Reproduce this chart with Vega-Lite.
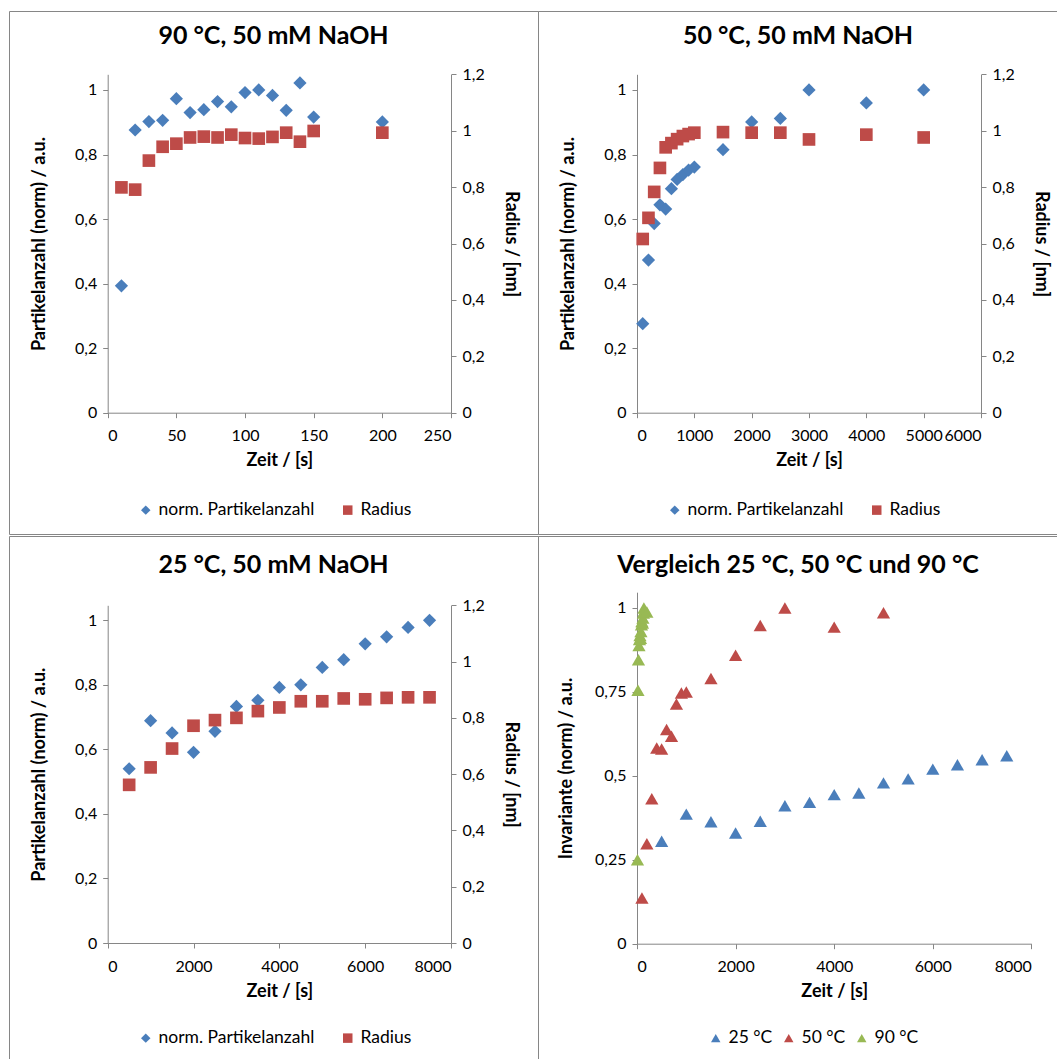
{
  "$schema": "https://vega.github.io/schema/vega-lite/v6.json",
  "padding": {"left": 8, "top": 10, "right": 0, "bottom": 0},
  "background": "white",
  "spacing": 0,
  "datasets": {
    "p90": [
      {"t": 10, "N": 0.393, "r": 0.799},
      {"t": 20, "N": 0.876, "r": 0.791},
      {"t": 30, "N": 0.902, "r": 0.894},
      {"t": 40, "N": 0.906, "r": 0.943},
      {"t": 50, "N": 0.973, "r": 0.954},
      {"t": 60, "N": 0.930, "r": 0.976},
      {"t": 70, "N": 0.939, "r": 0.979},
      {"t": 80, "N": 0.964, "r": 0.976},
      {"t": 90, "N": 0.948, "r": 0.986},
      {"t": 100, "N": 0.992, "r": 0.974},
      {"t": 110, "N": 1.0, "r": 0.972},
      {"t": 120, "N": 0.983, "r": 0.978},
      {"t": 130, "N": 0.937, "r": 0.993},
      {"t": 140, "N": 1.022, "r": 0.961},
      {"t": 150, "N": 0.916, "r": 0.999},
      {"t": 200, "N": 0.901, "r": 0.993}
    ],
    "p50": [
      {"t": 100, "N": 0.276, "r": 0.616},
      {"t": 200, "N": 0.473, "r": 0.691},
      {"t": 300, "N": 0.586, "r": 0.783},
      {"t": 400, "N": 0.644, "r": 0.868},
      {"t": 500, "N": 0.631, "r": 0.941},
      {"t": 600, "N": 0.694, "r": 0.956},
      {"t": 700, "N": 0.723, "r": 0.970},
      {"t": 800, "N": 0.738, "r": 0.981},
      {"t": 900, "N": 0.752, "r": 0.988},
      {"t": 1000, "N": 0.761, "r": 0.993},
      {"t": 1500, "N": 0.815, "r": 0.995},
      {"t": 2000, "N": 0.901, "r": 0.993},
      {"t": 2500, "N": 0.912, "r": 0.993},
      {"t": 3000, "N": 1.0, "r": 0.969},
      {"t": 4000, "N": 0.960, "r": 0.986},
      {"t": 5000, "N": 1.0, "r": 0.976}
    ],
    "p25": [
      {"t": 500, "N": 0.540, "r": 0.562},
      {"t": 1000, "N": 0.689, "r": 0.624},
      {"t": 1500, "N": 0.651, "r": 0.691},
      {"t": 2000, "N": 0.591, "r": 0.772},
      {"t": 2500, "N": 0.656, "r": 0.792},
      {"t": 3000, "N": 0.733, "r": 0.800},
      {"t": 3500, "N": 0.752, "r": 0.824},
      {"t": 4000, "N": 0.792, "r": 0.837},
      {"t": 4500, "N": 0.800, "r": 0.859},
      {"t": 5000, "N": 0.854, "r": 0.859},
      {"t": 5500, "N": 0.878, "r": 0.869},
      {"t": 6000, "N": 0.927, "r": 0.866},
      {"t": 6500, "N": 0.949, "r": 0.871},
      {"t": 7000, "N": 0.978, "r": 0.873},
      {"t": 7500, "N": 1.0, "r": 0.873}
    ],
    "inv": [
      {"t": 500, "v": 0.305, "T": "25 °C"},
      {"t": 1000, "v": 0.386, "T": "25 °C"},
      {"t": 1500, "v": 0.363, "T": "25 °C"},
      {"t": 2000, "v": 0.330, "T": "25 °C"},
      {"t": 2500, "v": 0.365, "T": "25 °C"},
      {"t": 3000, "v": 0.411, "T": "25 °C"},
      {"t": 3500, "v": 0.421, "T": "25 °C"},
      {"t": 4000, "v": 0.444, "T": "25 °C"},
      {"t": 4500, "v": 0.449, "T": "25 °C"},
      {"t": 5000, "v": 0.479, "T": "25 °C"},
      {"t": 5500, "v": 0.491, "T": "25 °C"},
      {"t": 6000, "v": 0.520, "T": "25 °C"},
      {"t": 6500, "v": 0.533, "T": "25 °C"},
      {"t": 7000, "v": 0.548, "T": "25 °C"},
      {"t": 7500, "v": 0.560, "T": "25 °C"},
      {"t": 100, "v": 0.136, "T": "50 °C"},
      {"t": 200, "v": 0.298, "T": "50 °C"},
      {"t": 300, "v": 0.432, "T": "50 °C"},
      {"t": 400, "v": 0.583, "T": "50 °C"},
      {"t": 500, "v": 0.580, "T": "50 °C"},
      {"t": 600, "v": 0.638, "T": "50 °C"},
      {"t": 700, "v": 0.618, "T": "50 °C"},
      {"t": 800, "v": 0.714, "T": "50 °C"},
      {"t": 900, "v": 0.747, "T": "50 °C"},
      {"t": 1000, "v": 0.750, "T": "50 °C"},
      {"t": 1500, "v": 0.790, "T": "50 °C"},
      {"t": 2000, "v": 0.859, "T": "50 °C"},
      {"t": 2500, "v": 0.948, "T": "50 °C"},
      {"t": 3000, "v": 1.0, "T": "50 °C"},
      {"t": 4000, "v": 0.943, "T": "50 °C"},
      {"t": 5000, "v": 0.986, "T": "50 °C"},
      {"t": 10, "v": 0.250, "T": "90 °C"},
      {"t": 20, "v": 0.755, "T": "90 °C"},
      {"t": 30, "v": 0.846, "T": "90 °C"},
      {"t": 40, "v": 0.888, "T": "90 °C"},
      {"t": 50, "v": 0.906, "T": "90 °C"},
      {"t": 60, "v": 0.918, "T": "90 °C"},
      {"t": 70, "v": 0.910, "T": "90 °C"},
      {"t": 80, "v": 0.930, "T": "90 °C"},
      {"t": 90, "v": 0.950, "T": "90 °C"},
      {"t": 100, "v": 0.960, "T": "90 °C"},
      {"t": 110, "v": 0.955, "T": "90 °C"},
      {"t": 120, "v": 0.970, "T": "90 °C"},
      {"t": 130, "v": 0.985, "T": "90 °C"},
      {"t": 140, "v": 1.0, "T": "90 °C"},
      {"t": 150, "v": 0.992, "T": "90 °C"},
      {"t": 200, "v": 0.988, "T": "90 °C"}
    ]
  },
  "config": {
    "font": "Lato",
    "view": {"stroke": "#868686", "strokeWidth": 1},
    "title": {"font": "Lato", "fontSize": 25, "fontWeight": "bold", "color": "#000000", "baseline": "alphabetic", "anchor": "middle", "frame": "group"},
    "axis": {
      "grid": false,
      "domainColor": "#868686",
      "tickColor": "#868686",
      "tickSize": 5,
      "labelFont": "Lato",
      "labelFontSize": 16,
      "labelColor": "#000000",
      "labelPadding": 6,
      "titleFont": "Lato",
      "titleFontSize": 18,
      "titleFontWeight": "bold",
      "titleColor": "#000000"
    },
    "axisX": {"labelPadding": 10},
    "legend": {
      "labelFont": "Lato",
      "labelFontSize": 17.5,
      "labelColor": "#000000",
      "symbolSize": 90,
      "symbolStrokeWidth": 0
    }
  },
  "vconcat": [
    {
      "hconcat": [
        {
          "width": 529,
          "height": 523,
          "title": {"text": "90 °C, 50 mM NaOH", "offset": -38},
          "data": {"name": "p90"},
          "layer": [
            {
              "mark": {"type": "point", "filled": true, "size": 175, "opacity": 1},
              "encoding": {
                "x": {"field": "t", "type": "quantitative",
                  "scale": {"domain": [0, 250], "range": [98.7, 442], "nice": false, "zero": false},
                  "axis": {"values": [0, 50, 100, 150, 200, 250], "format": "d", "title": "Zeit / [s]", "offset": -121.3, "titlePadding": 8}},
                "y": {"field": "N", "type": "quantitative",
                  "scale": {"domain": [0, 1.0486], "range": [401.7, 63.3], "nice": false, "zero": false},
                  "axis": {"orient": "left", "offset": -98.7, "values": [0, 0.2, 0.4, 0.6, 0.8, 1], "labelExpr": "replace(format(datum.value, '~g'), '.', ',')", "title": "Partikelanzahl (norm) / a.u.", "titlePadding": 26}},
                "color": {"datum": "norm. Partikelanzahl", "scale": {"domain": ["norm. Partikelanzahl", "Radius"], "range": ["#4A7EBB", "#BE4B48"]},
                  "legend": {"title": null, "orient": "none", "legendX": 128, "legendY": 490, "direction": "horizontal", "columns": 2, "columnPadding": 24}},
                "shape": {"datum": "norm. Partikelanzahl", "scale": {"domain": ["norm. Partikelanzahl", "Radius"], "range": ["diamond", "square"]}}
              }
            },
            {
              "mark": {"type": "point", "filled": true, "size": 160, "opacity": 1},
              "encoding": {
                "x": {"field": "t", "type": "quantitative"},
                "y": {"field": "r", "type": "quantitative",
                  "scale": {"domain": [0, 1.2], "range": [401.7, 63.3], "nice": false, "zero": false},
                  "axis": {"orient": "right", "offset": -87, "values": [0, 0.2, 0.4, 0.6, 0.8, 1, 1.2], "labelExpr": "replace(format(datum.value, '~g'), '.', ',')", "title": "Radius / [nm]", "titlePadding": 17}},
                "color": {"datum": "Radius"},
                "shape": {"datum": "Radius"}
              }
            }
          ],
          "resolve": {"scale": {"y": "independent"}, "axis": {"y": "independent"}}
        },
        {
          "width": 520,
          "height": 523,
          "title": {"text": "50 °C, 50 mM NaOH", "offset": -38},
          "data": {"name": "p50"},
          "layer": [
            {
              "mark": {"type": "point", "filled": true, "size": 175, "opacity": 1},
              "encoding": {
                "x": {"field": "t", "type": "quantitative",
                  "scale": {"domain": [0, 6000], "range": [99, 443], "nice": false, "zero": false},
                  "axis": {"values": [0, 1000, 2000, 3000, 4000, 5000, 6000], "format": "d", "title": "Zeit / [s]", "offset": -121.3, "titlePadding": 8}},
                "y": {"field": "N", "type": "quantitative",
                  "scale": {"domain": [0, 1.0486], "range": [401.7, 63.3], "nice": false, "zero": false},
                  "axis": {"orient": "left", "offset": -99, "values": [0, 0.2, 0.4, 0.6, 0.8, 1], "labelExpr": "replace(format(datum.value, '~g'), '.', ',')", "title": "Partikelanzahl (norm) / a.u.", "titlePadding": 26}},
                "color": {"datum": "norm. Partikelanzahl", "scale": {"domain": ["norm. Partikelanzahl", "Radius"], "range": ["#4A7EBB", "#BE4B48"]},
                  "legend": {"title": null, "orient": "none", "legendX": 128, "legendY": 490, "direction": "horizontal", "columns": 2, "columnPadding": 24}},
                "shape": {"datum": "norm. Partikelanzahl", "scale": {"domain": ["norm. Partikelanzahl", "Radius"], "range": ["diamond", "square"]}}
              }
            },
            {
              "mark": {"type": "point", "filled": true, "size": 160, "opacity": 1},
              "encoding": {
                "x": {"field": "t", "type": "quantitative"},
                "y": {"field": "r", "type": "quantitative",
                  "scale": {"domain": [0, 1.2], "range": [401.7, 63.3], "nice": false, "zero": false},
                  "axis": {"orient": "right", "offset": -77, "values": [0, 0.2, 0.4, 0.6, 0.8, 1, 1.2], "labelExpr": "replace(format(datum.value, '~g'), '.', ',')", "title": "Radius / [nm]", "titlePadding": 17}},
                "color": {"datum": "Radius"},
                "shape": {"datum": "Radius"}
              }
            }
          ],
          "resolve": {"scale": {"y": "independent"}, "axis": {"y": "independent"}}
        }
      ],
      "spacing": 0,
      "bounds": "flush",
      "resolve": {"scale": {"color": "independent", "shape": "independent"}, "legend": {"color": "independent", "shape": "independent"}}
    },
    {
      "hconcat": [
        {
          "width": 529,
          "height": 526,
          "title": {"text": "25 °C, 50 mM NaOH", "offset": -42},
          "data": {"name": "p25"},
          "layer": [
            {
              "mark": {"type": "point", "filled": true, "size": 175, "opacity": 1},
              "encoding": {
                "x": {"field": "t", "type": "quantitative",
                  "scale": {"domain": [0, 8000], "range": [98.7, 442], "nice": false, "zero": false},
                  "axis": {"values": [0, 2000, 4000, 6000, 8000], "format": "d", "title": "Zeit / [s]", "offset": -119, "titlePadding": 8}},
                "y": {"field": "N", "type": "quantitative",
                  "scale": {"domain": [0, 1.0465], "range": [407, 69.3], "nice": false, "zero": false},
                  "axis": {"orient": "left", "offset": -98.7, "values": [0, 0.2, 0.4, 0.6, 0.8, 1], "labelExpr": "replace(format(datum.value, '~g'), '.', ',')", "title": "Partikelanzahl (norm) / a.u.", "titlePadding": 26}},
                "color": {"datum": "norm. Partikelanzahl", "scale": {"domain": ["norm. Partikelanzahl", "Radius"], "range": ["#4A7EBB", "#BE4B48"]},
                  "legend": {"title": null, "orient": "none", "legendX": 128, "legendY": 493, "direction": "horizontal", "columns": 2, "columnPadding": 24}},
                "shape": {"datum": "norm. Partikelanzahl", "scale": {"domain": ["norm. Partikelanzahl", "Radius"], "range": ["diamond", "square"]}}
              }
            },
            {
              "mark": {"type": "point", "filled": true, "size": 160, "opacity": 1},
              "encoding": {
                "x": {"field": "t", "type": "quantitative"},
                "y": {"field": "r", "type": "quantitative",
                  "scale": {"domain": [0, 1.2], "range": [407, 69.3], "nice": false, "zero": false},
                  "axis": {"orient": "right", "offset": -87, "values": [0, 0.2, 0.4, 0.6, 0.8, 1, 1.2], "labelExpr": "replace(format(datum.value, '~g'), '.', ',')", "title": "Radius / [nm]", "titlePadding": 17}},
                "color": {"datum": "Radius"},
                "shape": {"datum": "Radius"}
              }
            }
          ],
          "resolve": {"scale": {"y": "independent"}, "axis": {"y": "independent"}}
        },
        {
          "width": 520,
          "height": 526,
          "title": {"text": "Vergleich 25 °C, 50 °C und 90 °C", "offset": -42},
          "data": {"name": "inv"},
          "mark": {"type": "point", "filled": true, "size": 175, "opacity": 1, "shape": "triangle-up"},
          "encoding": {
            "x": {"field": "t", "type": "quantitative",
              "scale": {"domain": [0, 8000], "range": [99, 493.4], "nice": false, "zero": false},
              "axis": {"values": [0, 2000, 4000, 6000, 8000], "format": "d", "title": "Zeit / [s]", "offset": -118.3, "titlePadding": 8}},
            "y": {"field": "v", "type": "quantitative",
              "scale": {"domain": [0, 1.047], "range": [407.7, 56.2], "nice": false, "zero": false},
              "axis": {"orient": "left", "offset": -99, "values": [0, 0.25, 0.5, 0.75, 1], "labelExpr": "replace(format(datum.value, '~g'), '.', ',')", "title": "Invariante (norm) / a.u.", "titlePadding": 19}},
            "color": {"field": "T", "type": "nominal", "sort": ["25 °C", "50 °C", "90 °C"],
              "scale": {"domain": ["25 °C", "50 °C", "90 °C"], "range": ["#4A7EBB", "#BE4B48", "#98B954"]},
              "legend": {"title": null, "orient": "none", "legendX": 169, "legendY": 493, "direction": "horizontal", "columns": 3, "columnPadding": 7, "symbolType": "triangle-up"}}
          }
        }
      ],
      "spacing": 0,
      "bounds": "flush",
      "resolve": {"scale": {"color": "independent", "shape": "independent"}, "legend": {"color": "independent", "shape": "independent"}}
    }
  ],
  "resolve": {"scale": {"color": "independent", "shape": "independent"}, "legend": {"color": "independent", "shape": "independent"}}
}
